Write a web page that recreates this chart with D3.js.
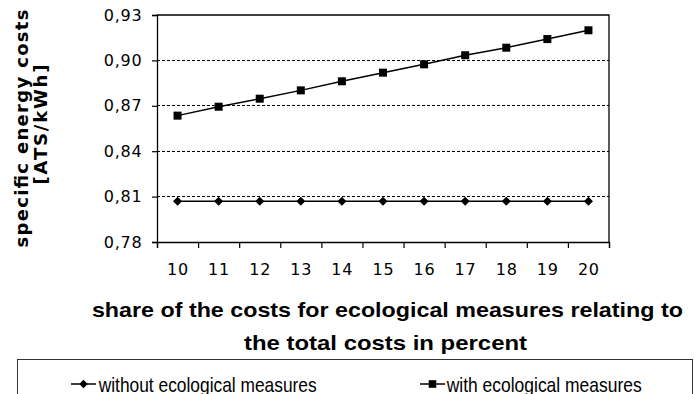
<!DOCTYPE html>
<html>
<head>
<meta charset="utf-8">
<script src="https://cdn.jsdelivr.net/npm/d3@7"></script>
<style>
  html, body { margin: 0; padding: 0; background: #fff; }
  svg { display: block; }
</style>
</head>
<body>
<svg id="chart" width="694" height="394"></svg>
<script>
// Share of ecological-measure costs (percent of total costs)
const categories = [10, 11, 12, 13, 14, 15, 16, 17, 18, 19, 20];
// Specific energy costs in ATS/kWh
const withoutMeasures = [0.807, 0.807, 0.807, 0.807, 0.807, 0.807, 0.807, 0.807, 0.807, 0.807, 0.807];
const withMeasures = [0.8635, 0.8694, 0.8747, 0.8802, 0.8862, 0.8919, 0.8974, 0.9034, 0.9084, 0.9141, 0.9199];
const yTicks = [0.78, 0.81, 0.84, 0.87, 0.90, 0.93];
const seriesNames = ["without ecological measures", "with ecological measures"];
const yTitle = ["specific energy costs", "[ATS/kWh]"];
const xTitle = ["share of the costs for ecological measures relating to", "the total costs in percent"];

const svg = d3.select("#chart");
const plot = { left: 157, right: 609, top: 15, bottom: 242 };
const tickFont = "'DejaVu Sans', sans-serif";

const x = d3.scaleBand().domain(categories).range([plot.left, plot.right]).padding(0);
const xc = c => x(c) + x.bandwidth() / 2;
const bounds = d3.scaleLinear().domain([0, categories.length]).range([plot.left, plot.right]);
const y = d3.scaleLinear().domain([0.78, 0.93]).range([plot.bottom, plot.top]);

const locale = d3.formatLocale({ decimal: ",", thousands: ".", grouping: [3], currency: ["", ""] });
const fmt = locale.format(".2f");

// dashed horizontal grid
svg.append("g")
  .selectAll("line")
  .data(yTicks.filter(t => t > 0.78 && t < 0.93))
  .join("line")
  .attr("x1", plot.left).attr("x2", plot.right)
  .attr("y1", d => y(d)).attr("y2", d => y(d))
  .attr("stroke", "#000").attr("stroke-width", 1)
  .attr("stroke-dasharray", "3,2")
  .attr("shape-rendering", "crispEdges");

// plot frame: top and right edges
svg.append("path")
  .attr("d", `M${plot.left},${y(0.93)}H${plot.right}V${plot.bottom}`)
  .attr("fill", "none").attr("stroke", "#000").attr("stroke-width", 1.3);

// y axis
const yAxis = svg.append("g")
  .attr("transform", `translate(${plot.left},0)`)
  .call(d3.axisLeft(y).tickValues(yTicks).tickSize(5).tickPadding(9.5).tickFormat(fmt));
yAxis.select(".domain").attr("stroke", "#000").attr("stroke-width", 1.3);
yAxis.selectAll(".tick line").attr("stroke", "#000").attr("stroke-width", 1.2);
yAxis.selectAll("text")
  .attr("font-family", tickFont).attr("font-size", 16)
  .attr("letter-spacing", "0.8px").attr("fill", "#000");

// x axis: ticks on category boundaries
const xAxis = svg.append("g")
  .attr("transform", `translate(0,${plot.bottom})`)
  .call(d3.axisBottom(bounds).tickValues(d3.range(categories.length + 1)).tickSize(6).tickFormat(""));
xAxis.select(".domain").attr("stroke", "#000").attr("stroke-width", 1.3);
xAxis.selectAll(".tick line").attr("stroke", "#000").attr("stroke-width", 1.2);

// x axis: category labels centred in each band
const xLabels = svg.append("g")
  .attr("transform", `translate(0,${plot.bottom})`)
  .call(d3.axisBottom(x).tickSize(0).tickPadding(22));
xLabels.select(".domain").remove();
xLabels.selectAll("text")
  .attr("font-family", tickFont).attr("font-size", 16)
  .attr("letter-spacing", "0.8px").attr("dx", "0.4px").attr("fill", "#000");

// series lines and markers
const line = d3.line().x((d, i) => xc(categories[i])).y(d => y(d));
svg.append("path").datum(withoutMeasures).attr("d", line)
  .attr("fill", "none").attr("stroke", "#000").attr("stroke-width", 1.5);
svg.append("path").datum(withMeasures).attr("d", line)
  .attr("fill", "none").attr("stroke", "#000").attr("stroke-width", 1.5);

const diamond = (cx, cy, r) => `M${cx},${cy - r}L${cx + r},${cy}L${cx},${cy + r}L${cx - r},${cy}Z`;
svg.append("g").selectAll("path")
  .data(withoutMeasures)
  .join("path")
  .attr("d", (d, i) => diamond(xc(categories[i]), y(d), 4.5))
  .attr("fill", "#000");
svg.append("g").selectAll("rect")
  .data(withMeasures)
  .join("rect")
  .attr("x", (d, i) => xc(categories[i]) - 4)
  .attr("y", d => y(d) - 4)
  .attr("width", 8).attr("height", 8)
  .attr("fill", "#000");

// y axis title (rotated, two lines)
const yt = svg.append("g").attr("transform", "translate(0,128.5) rotate(-90)");
yt.append("text").attr("x", 0).attr("y", 28)
  .attr("text-anchor", "middle")
  .attr("font-family", "'DejaVu Sans', sans-serif").attr("font-weight", "bold").attr("font-size", 18)
  .attr("textLength", 238).attr("lengthAdjust", "spacing")
  .text(yTitle[0]);
yt.append("text").attr("x", 4).attr("y", 46.5)
  .attr("text-anchor", "middle")
  .attr("font-family", "'DejaVu Sans', sans-serif").attr("font-weight", "bold").attr("font-size", 18)
  .attr("textLength", 120).attr("lengthAdjust", "spacing")
  .text(yTitle[1]);

// x axis title (two lines)
svg.append("text").attr("x", 387.4).attr("y", 317)
  .attr("text-anchor", "middle")
  .attr("font-family", "'Liberation Sans', Arial, sans-serif").attr("font-weight", "bold").attr("font-size", 21)
  .attr("textLength", 591).attr("lengthAdjust", "spacingAndGlyphs")
  .text(xTitle[0]);
svg.append("text").attr("x", 385.5).attr("y", 349.5)
  .attr("text-anchor", "middle")
  .attr("font-family", "'Liberation Sans', Arial, sans-serif").attr("font-weight", "bold").attr("font-size", 21)
  .attr("textLength", 283).attr("lengthAdjust", "spacingAndGlyphs")
  .text(xTitle[1]);

// legend
svg.append("rect")
  .attr("x", 17.5).attr("y", 359.5).attr("width", 675).attr("height", 60)
  .attr("fill", "none").attr("stroke", "#333").attr("stroke-width", 1);

const legendItems = [
  { name: seriesNames[0], lx: 71, tx: 98.7, tw: 218, kind: "diamond" },
  { name: seriesNames[1], lx: 420, tx: 446.7, tw: 195, kind: "square" }
];
const ly = 384;
legendItems.forEach(it => {
  svg.append("line").attr("x1", it.lx).attr("x2", it.lx + 25).attr("y1", ly).attr("y2", ly)
    .attr("stroke", "#000").attr("stroke-width", 1.5);
  const mx = it.lx + 12.5;
  if (it.kind === "diamond") {
    svg.append("path").attr("d", diamond(mx, ly, 4.2)).attr("fill", "#000");
  } else {
    svg.append("rect").attr("x", mx - 3.8).attr("y", ly - 3.8).attr("width", 7.6).attr("height", 7.6).attr("fill", "#000");
  }
  svg.append("text").attr("x", it.tx).attr("y", ly + 7.5)
    .attr("font-family", "'Liberation Sans', Arial, sans-serif").attr("font-size", 21)
    .attr("textLength", it.tw).attr("lengthAdjust", "spacingAndGlyphs")
    .text(it.name);
});
</script>
</body>
</html>
